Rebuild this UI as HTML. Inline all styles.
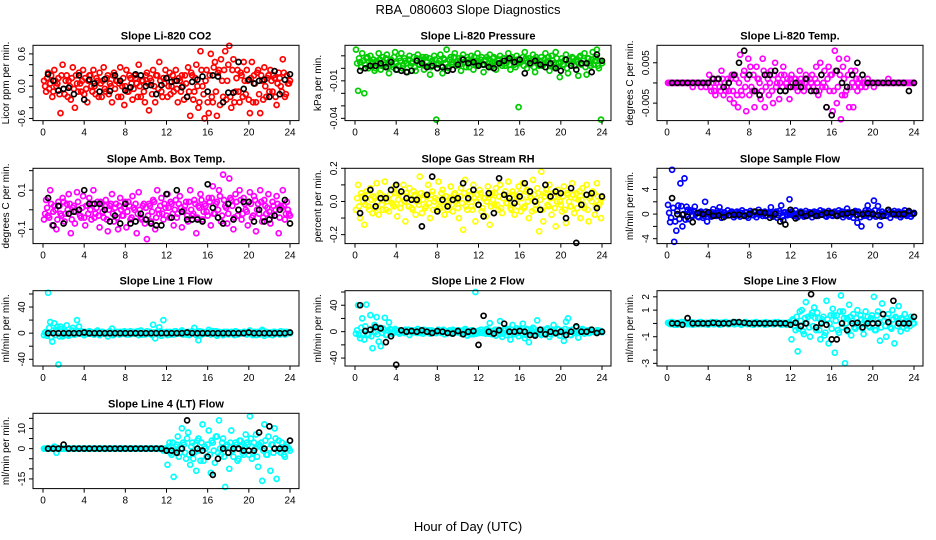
<!DOCTYPE html>
<html><head><meta charset="utf-8">
<style>
html,body{margin:0;padding:0;background:#fff;}
svg{display:block;font-family:"Liberation Sans",Arial,sans-serif;}
</style></head>
<body>
<svg id="c" width="936" height="540" viewBox="0 0 936 540" xmlns="http://www.w3.org/2000/svg">
<text x="468" y="14" text-anchor="middle" font-size="13">RBA_080603  Slope Diagnostics</text>
<text x="468" y="531" text-anchor="middle" font-size="13">Hour of Day (UTC)</text>
</svg>
<script>
const titles=["Slope Li-820 CO2","Slope Li-820 Pressure","Slope Li-820 Temp.","Slope Amb. Box Temp.","Slope Gas Stream RH","Slope Sample Flow","Slope Line 1 Flow","Slope Line 2 Flow","Slope Line 3 Flow","Slope Line 4 (LT) Flow"];
const yTitles=["Licor ppm per min.","kPa per min.","degrees C per min.","degrees C per min.","percent per min.","ml/min per min.","ml/min per min.","ml/min per min.","ml/min per min.","ml/min per min."];
const colors=["#ff0000","#00cd00","#ff00ff","#ff00ff","#ffff00","#0000ff","#00ffff","#00ffff","#00ffff","#00ffff"];
const xTicks=[0,4,8,12,16,20,24];
const yDomains=[[-0.64,0.76],[-0.0418,0.0184],[-0.00933,0.00933],[-0.173,0.212],[-0.254,0.2],[-4.8,7.45],[-50.3,65],[-52,62],[-3.2,2.46],[-19.8,17.5]];
const yTickVals=[[0.6,0.4,0.2,0,-0.2,-0.4,-0.6],[0.01,0,-0.01,-0.02,-0.03,-0.04],[0.005,0,-0.005],[0.2,0.1,0,-0.1],[0.2,0.1,0,-0.1,-0.2],[6,4,2,0,-2,-4],[60,40,20,0,-20,-40],[60,40,20,0,-20,-40],[2,1,0,-1,-2,-3],[15,10,5,0,-5,-10,-15]];
const yTickLabels=[["0.6","","","0.0","","","-0.6"],["","","-0.01","","","-0.04"],["0.005","","-0.005"],["","0.1","","-0.1"],["0.2","","0.0","","-0.2"],["","4","","0","","-4"],["","40","","0","","-40"],["","40","","0","","-40"],["2","1","","-1","","-3"],["","10","","0","","","-15"]];

const co2=[0.1,-0.1,0.25,0.05,-0.2,0.3,0.0,0.15,-0.5,0.4,-0.15,0.2,0.1,-0.25,0.35,-0.4,0.05,0.25,-0.1,0.3,0.15,-0.3,0.2,0.0,0.3,-0.15,0.1,0.25,-0.2,0.35,-0.1,0.2,0.05,-0.3,0.25,0.1,-0.2,0.35,0.0,-0.35,0.3,-0.1,0.15,-0.25,0.2,0.05,0.4,-0.2,0.1,-0.3,0.25,-0.45,0.1,0.3,-0.3,0.2,0.45,-0.1,0.15,0.3,-0.2,0.25,0.0,-0.1,0.3,-0.3,0.1,0.2,-0.25,0.05,0.35,-0.55,0.2,-0.1,0.4,-0.4,0.65,0.0,-0.6,0.3,-0.5,0.6,-0.3,0.45,-0.55,0.3,0.5,-0.2,0.65,0.1,0.75,-0.4,0.5,-0.1,0.3,-0.3,0.2,0.45,-0.15,0.1,-0.5,0.45,0.2,-0.3,0.3,-0.5,0.1,0.35,-0.2,0.2,0.3,-0.1,0.15,-0.35,0.25,0.0,0.5,-0.2,0.2,0.05];
const co2B=[0.0,0.15,-0.05,0.2,-0.1,0.1,0.05,-0.15,0.2,-0.05,0.1,-0.2,0.0,0.15,-0.05,0.2,-0.1,0.05,0.1,-0.15,-0.05,0.1,0.2,-0.1,0.0,0.15,-0.2,0.05,0.1,-0.05,0.15,-0.15,0.0,0.2,-0.05,0.1,0.05,-0.2,0.15,0.0,-0.1,0.2,0.05,-0.05,0.15,-0.2,0.0,0.1,-0.1,0.2,0.05,0.15,-0.15,0.0,0.2,-0.05,0.1,-0.2,0.05,0.15,0.0,-0.15,0.2,0.1,-0.05,0.15,-0.1,0.0,0.2,-0.2,-0.1,0.25,-0.25,0.15,0.0,-0.3,0.3,-0.15,0.1,-0.3,0.2,-0.2,0.35,-0.1,0.25,-0.35,0.1,0.3,-0.25,0.4,-0.2,0.3,-0.3,0.15,-0.1,0.25,-0.2,0.1,0.3,-0.25,0.15,-0.3,0.05,0.25,-0.15,0.2,-0.25,0.0,0.15,-0.1,0.1,0.2,-0.2,0.05,0.15,-0.1,0.25,-0.15,0.05,0.1];
const co2Ref=[0.22,0.1,-0.08,-0.05,-0.03,-0.15,0.2,-0.25,0.12,0.05,-0.1,0.13,-0.09,0.2,0.1,-0.08,-0.02,0.22,0.2,0.0,0.02,-0.15,0.02,0.15,0.08,0.1,-0.02,-0.2,0.08,0.12,0.18,-0.1,0.2,0.18,-0.3,-0.12,-0.12,0.45,-0.05,0.12,0.05,0.1,0.12,-0.2,0.28,-0.15,0.12,0.22];
const pres=[0.015,-0.018,0.005,0.012,-0.02,0.008,0.0,0.01,0.004,-0.002,0.006,0.012,-0.001,0.009,0.003,0.011,-0.004,0.007,0.001,0.013,-0.001,0.008,0.012,0.002,0.006,-0.003,0.01,0.004,0.009,-0.002,0.011,0.003,0.007,-0.001,0.009,0.002,-0.005,0.006,0.01,-0.041,0.004,0.011,-0.004,0.007,0.015,0.0,0.009,0.003,0.012,0.005,0.008,-0.002,0.011,0.005,0.009,0.001,0.01,-0.001,0.006,0.012,0.003,0.009,-0.003,0.007,0.002,0.011,0.005,0.009,-0.001,0.006,0.01,0.002,0.008,0.004,0.012,-0.001,0.007,0.003,0.01,-0.031,0.005,0.009,0.013,0.0,0.008,0.004,0.011,-0.003,0.007,0.002,0.009,0.003,0.012,0.006,-0.002,0.01,0.004,0.013,0.001,-0.007,0.008,0.003,0.011,-0.004,0.006,0.009,0.002,0.007,-0.006,0.01,0.004,0.012,-0.005,0.008,0.002,0.013,0.006,0.015,0.0,-0.041];
const presB=[0.004,0.008,0.001,0.006,0.003,0.009,0.002,0.005,0.007,0.0,0.004,0.007,0.002,0.005,0.008,0.001,0.006,0.003,0.009,0.004,0.002,0.006,0.0,0.008,0.004,0.007,0.002,0.005,0.001,0.008,0.003,0.006,0.009,0.002,0.005,0.008,0.001,0.004,0.007,0.003,0.006,0.002,0.008,0.004,0.001,0.007,0.005,0.009,0.002,0.006,0.003,0.008,0.005,0.001,0.007,0.004,0.006,0.009,0.002,0.005,0.007,0.003,0.006,0.009,0.004,0.001,0.008,0.005,0.003,0.007,0.004,0.008,0.002,0.006,0.003,0.009,0.005,0.001,0.007,0.004,0.006,0.002,0.008,0.005,0.003,0.007,0.001,0.009,0.004,0.006,0.002,0.007,0.005,0.009,0.003,0.006,0.001,0.008,0.004,0.005,0.003,0.007,0.0,0.006,0.004,0.008,0.002,0.005,0.009,0.003,0.006,0.001,0.008,0.004,0.007,0.003,0.009,0.002,0.006,0.004];
const presRef=[-0.002,0.0,0.002,0.002,0.004,0.001,0.005,-0.001,-0.002,-0.003,-0.002,0.006,0.004,0.001,0.002,0.0,0.001,-0.002,-0.001,0.003,0.007,0.004,0.005,0.002,0.003,0.001,0.0,0.004,0.006,0.008,0.005,0.007,-0.004,0.004,0.006,0.003,0.001,0.004,0.0,-0.002,0.007,0.002,-0.001,0.004,0.004,-0.003,0.011,0.006];
const ltemp=[0,0,0,0,0,0,0,0,0,0,0,0,-0.001,0,0,0,-0.001,0,0,0,0.002,-0.002,0.0,-0.003,0.001,-0.001,0.003,-0.003,-0.002,0.001,-0.004,0.002,-0.005,0.001,-0.006,0.007,-0.003,0.003,-0.007,0.006,0.004,-0.002,-0.006,0.004,0.001,-0.004,0.006,-0.006,0.002,-0.003,0.003,-0.005,0.005,0.0,-0.004,0.002,0.004,-0.002,0.001,-0.004,0.002,-0.001,0.001,-0.002,0.003,0.0,-0.002,0.002,-0.001,0.001,0.002,-0.002,0.004,-0.003,0.005,-0.001,0.003,-0.006,0.004,0.002,-0.007,0.008,-0.005,0.006,-0.009,0.004,-0.003,0.006,-0.006,0.003,-0.006,0.003,-0.002,0.001,-0.001,0.0,-0.001,0.001,0,0,-0.001,0,0,0,0,0,0,0.001,0,0,0,0,0,0,0,0,0,0,0,0];
const ltempB=[0,0,0,0,0,0,0,0,0,0,0,0,0,0,0,0,0,0,-0.001,0,-0.001,0.001,-0.002,0.0,0.001,-0.002,0.001,0.0,-0.001,-0.002,0.001,-0.002,0.002,-0.003,0.0,-0.002,0.002,-0.001,0.001,-0.003,-0.001,0.002,-0.002,0.001,0.0,-0.002,0.003,-0.001,0.001,0.0,-0.002,0.002,-0.001,0.001,0.0,-0.001,0.002,0.0,-0.001,0.001,0.0,0.001,-0.001,0.0,0.001,-0.001,0.0,0.001,-0.001,0.0,-0.001,0.001,0.0,-0.002,0.002,0.0,-0.001,0.001,-0.002,0.002,-0.002,0.003,-0.001,0.002,-0.003,0.001,-0.002,0.002,-0.001,0.0,-0.001,0.001,0.0,-0.001,0,0,0,0,0,0,0,0,0,0,0,0,0,0,0,0,0,0,0,0,0,0,0,0,0,0];
const ltempRef=[0,0,0,0,0,0,0,0,0.001,0.001,-0.001,0.0,0.002,0.005,0.008,0.002,-0.002,-0.003,0.002,0.002,0.003,-0.002,-0.002,-0.001,0.0,-0.001,0.001,-0.002,-0.002,0.002,-0.006,-0.008,0.003,0.0,-0.001,0.002,0.005,0.002,0,0,0,0,0,0,0,0,-0.002,0];
const amb=[-0.05,0.05,-0.03,0.1,-0.08,0.02,-0.1,0.04,-0.02,0.06,-0.06,0.03,0.08,-0.12,0.01,-0.07,0.09,0.0,-0.04,0.07,-0.08,0.02,0.06,-0.05,0.1,-0.02,0.04,-0.09,0.03,-0.04,0.05,-0.11,0.02,0.08,-0.06,0.03,-0.1,0.06,-0.03,0.01,-0.09,0.04,-0.05,0.07,0.0,-0.12,0.09,-0.04,0.02,-0.07,-0.15,0.03,-0.06,0.05,-0.1,0.1,-0.02,0.06,-0.05,0.01,0.08,-0.04,0.03,-0.08,0.05,-0.02,0.07,-0.09,0.0,0.04,-0.06,0.1,-0.03,0.05,-0.12,0.02,0.08,-0.05,0.03,-0.01,0.06,-0.08,0.12,-0.02,0.04,0.1,-0.06,0.18,0.02,-0.07,0.16,0.05,-0.1,0.08,-0.03,0.1,-0.05,0.06,0.0,-0.08,0.09,-0.04,0.07,-0.11,0.03,0.1,-0.06,0.05,-0.02,0.08,-0.07,0.04,-0.03,0.07,-0.12,0.02,0.1,-0.05,0.04,-0.02];
const ambB=[-0.02,0.01,-0.04,0.03,-0.01,0.0,-0.05,0.02,-0.03,0.04,-0.02,0.0,0.03,-0.05,0.02,-0.01,0.04,-0.03,0.01,-0.04,0.02,-0.02,0.0,0.03,-0.04,0.01,-0.03,0.04,-0.01,0.02,-0.05,0.0,0.03,-0.02,0.01,-0.04,0.02,0.0,-0.03,0.04,-0.01,0.02,-0.04,0.01,0.03,-0.02,0.0,-0.05,0.03,0.01,-0.03,0.02,-0.01,0.04,-0.04,0.0,0.02,-0.02,0.03,-0.03,0.01,0.04,-0.02,0.0,-0.04,0.03,0.01,-0.01,0.02,-0.03,0.04,0.0,-0.02,0.03,-0.04,0.01,0.05,-0.01,0.02,-0.03,0.04,0.06,-0.02,0.03,0.0,0.07,-0.03,0.05,0.01,-0.02,0.06,0.02,-0.04,0.04,0.0,0.05,-0.02,0.03,-0.01,0.04,0.03,-0.03,0.05,0.0,-0.02,0.04,-0.04,0.02,0.01,-0.01,-0.03,0.02,0.0,0.03,-0.04,0.01,0.02,-0.02,0.0,-0.03];
const ambRef=[0.06,-0.08,0.02,-0.07,-0.02,-0.01,0.0,0.1,0.03,0.03,0.03,0.0,-0.06,-0.03,-0.07,0.03,-0.07,-0.06,-0.02,-0.05,-0.07,-0.08,-0.08,0.08,-0.04,0.1,-0.01,-0.05,-0.05,-0.05,-0.06,0.13,0.01,-0.04,-0.07,0.03,-0.05,0.0,0.04,0.04,-0.06,0.0,-0.06,-0.05,-0.03,0.0,0.05,-0.07];
const rh=[-0.05,0.1,-0.1,0.03,-0.14,0.06,-0.03,0.08,-0.07,0.02,0.11,-0.08,0.04,-0.05,0.12,0.0,-0.06,0.07,-0.02,0.09,-0.09,0.05,-0.01,0.1,-0.12,0.03,0.08,-0.04,0.06,-0.08,0.02,0.15,-0.07,0.04,-0.03,0.1,-0.1,0.06,0.0,-0.05,0.12,-0.04,0.07,-0.08,0.03,-0.02,0.09,-0.06,0.05,0.01,-0.1,0.08,-0.17,0.13,-0.05,0.06,-0.03,0.1,-0.12,0.04,0.07,-0.06,0.02,-0.09,0.09,-0.14,0.05,-0.02,0.08,-0.05,0.1,-0.07,0.04,-0.01,0.12,-0.04,0.06,-0.08,0.03,0.09,-0.06,0.11,-0.03,0.07,-0.1,0.02,0.13,-0.05,0.08,-0.18,0.18,-0.12,0.05,-0.02,0.1,-0.08,0.03,-0.15,0.07,0.0,-0.06,0.09,-0.13,0.04,-0.03,0.11,-0.07,0.05,0.01,-0.1,0.08,-0.04,0.1,-0.12,0.03,0.06,-0.08,0.11,-0.02,-0.1];
const rhB=[0.02,-0.03,0.05,0.0,-0.02,0.04,-0.05,0.01,0.03,-0.04,0.0,0.05,-0.02,0.03,-0.05,0.02,0.04,-0.01,-0.03,0.05,0.01,-0.04,0.03,0.0,0.05,-0.03,0.02,-0.05,0.04,0.0,-0.02,0.05,0.01,-0.04,0.03,-0.01,0.04,-0.05,0.02,0.01,-0.03,0.05,0.0,0.03,-0.05,0.02,-0.02,0.04,0.0,-0.04,0.03,-0.01,0.05,-0.03,0.01,0.04,-0.05,0.02,0.0,-0.02,0.05,-0.04,0.02,0.0,0.04,-0.03,0.01,0.05,-0.02,0.03,-0.04,0.02,0.06,-0.01,0.03,-0.05,0.04,0.0,-0.03,0.05,0.02,-0.04,0.06,0.0,0.03,-0.06,0.04,-0.02,0.05,0.01,-0.05,0.03,0.07,-0.03,0.02,0.05,-0.04,0.0,0.04,-0.02,0.03,-0.05,0.05,0.0,-0.03,0.04,0.02,-0.04,0.06,0.01,-0.02,0.04,-0.05,0.02,0.0,0.05,-0.03,0.03,-0.01,0.02];
const rhRef=[-0.07,0.02,0.07,-0.03,0.02,0.02,0.07,0.1,0.06,0.02,0.01,0.01,-0.15,0.04,0.15,-0.06,0.01,-0.03,0.01,0.02,0.11,0.02,0.07,-0.02,-0.09,0.05,-0.07,0.14,0.04,0.02,-0.01,0.03,0.11,0.06,0.0,-0.05,0.1,0.03,0.06,0.05,-0.1,0.08,-0.25,-0.02,0.04,0.05,-0.04,0.03];
const samp=[1.5,-1.3,7.2,-4.5,-2.7,1.4,5.0,-2.0,5.8,1.2,-0.8,0.6,-0.3,1.2,0.2,-0.5,0.4,-0.6,2.0,-1.2,0.3,-0.4,0.8,-0.2,0.5,1.1,-0.6,0.2,-0.3,0.6,-0.2,0.4,-0.5,0.3,0.1,-0.4,0.6,-0.2,0.3,-0.6,0.5,-0.1,0.3,-0.5,0.7,0.0,-0.3,0.4,-0.2,0.3,1.1,-0.4,0.2,-0.6,0.5,1.4,-1.0,0.3,-0.2,2.4,0.4,-0.3,0.6,-0.5,0.2,0.1,-0.4,0.5,-0.2,0.3,-0.5,0.4,0.0,-0.3,0.6,-0.1,0.2,-0.4,0.5,0.1,-0.3,0.4,-0.2,0.6,0.0,-0.5,0.3,0.9,-0.4,0.2,-0.6,0.5,-1.4,0.1,-2.0,-0.3,0.6,1.4,-0.5,0.3,2.2,-0.4,1.3,-1.8,0.4,0.1,-0.3,0.6,-0.6,0.2,0.5,-0.2,0.4,-0.5,0.1,0.6,-0.3,0.2,-0.4,0.0];
const sampB=[0.2,-0.6,1.0,-1.2,0.5,-0.8,1.3,0.0,-0.9,0.7,0.3,-0.2,0.5,0.0,-0.4,0.3,0.1,-0.3,0.4,0.0,-0.2,0.3,0.0,-0.3,0.2,0.4,-0.1,0.3,0.0,-0.2,0.3,0.1,-0.2,0.4,-0.1,0.2,0.0,0.3,-0.3,0.1,0.2,-0.2,0.4,0.0,-0.1,0.3,0.1,-0.3,0.2,0.0,-0.3,0.2,0.4,-0.2,0.1,-0.4,0.3,0.0,0.2,-0.1,0.3,0.0,-0.2,0.2,0.4,-0.1,0.1,-0.3,0.3,0.0,0.2,-0.2,0.3,0.1,-0.1,0.4,-0.3,0.0,0.2,-0.2,0.3,0.0,-0.3,0.2,0.4,-0.1,0.0,0.3,-0.2,0.1,0.3,-0.2,0.4,-0.5,0.0,0.2,-0.3,0.5,0.1,-0.2,0.6,-0.1,0.3,-0.4,0.0,0.2,-0.2,0.3,0.0,0.1,-0.1,0.3,0.0,-0.2,0.2,0.1,-0.1,0.3,0.0,0.2];
const sampRef=[2.6,0.0,-0.1,-0.4,-1.3,0.2,0.0,0.3,-0.3,-0.2,-0.5,-0.2,-0.1,-0.1,-0.3,0.0,0.4,0.3,0.2,-0.6,0.0,-1.2,-1.7,0.7,-0.7,0.2,-0.3,0.1,-0.3,-0.1,0.2,0.2,-0.3,0.0,0.1,0.3,-0.1,0.0,0.1,0.0,-0.2,-0.3,0.7,0.0,0.0,0.0,0.5,0.1];
const l1=[-3,2,62,17,-13,15,5,-48,10,-5,3,12,-4,0,8,-2,20,10,3,-1,2,-1,3,0,-2,1,4,-3,2,-1,0,-5,3,7,-2,1,0,2,-1,3,-2,1,3,-1,2,0,-3,4,1,-2,3,-1,0,13,-8,2,9,-4,20,1,-3,2,0,-2,3,1,-1,4,0,-2,2,-1,3,8,-3,-11,1,2,-1,0,5,-2,3,1,-4,2,0,-3,1,2,-1,2,0,3,-2,1,0,2,-1,0,4,-2,1,-3,2,0,5,-4,2,-1,1,-3,2,0,-1,3,1,-2,2,0];
const l1B=[1,-4,8,-6,4,-3,10,-5,6,-2,2,-3,1,4,-2,0,3,-1,2,-3,0,2,-1,1,-2,3,0,-1,2,0,-1,2,0,-3,1,2,-2,0,1,-1,2,-2,0,1,-1,3,0,-2,1,0,-1,2,-3,1,0,-2,3,1,-1,2,0,-2,1,3,-1,0,2,-2,1,0,-3,1,2,-1,0,3,-2,1,0,-1,2,-1,0,3,-2,1,-1,2,0,-2,1,0,-3,2,1,-1,0,2,-2,1,0,-3,2,1,-2,0,3,-1,1,-2,0,2,-1,1,-2,0,2,-1,1,0];
const l1Ref=[0,0,0,0,0,0,0,1,0,0,0,0,0,0,0,0,0,0,0,0,0,0,0,0,0,0,0,1,0,0,0,0,0,0,0,0,0,0,0,1,0,0,0,0,0,0,0,1];
const l2=[-3,40,-10,20,-12,41,-5,25,-25,10,22,-15,-22,5,21,-5,14,3,-2,4,2,-3,1,-1,3,0,-5,2,-1,1,4,-2,0,3,-1,2,-3,1,0,-2,3,-1,2,-4,0,1,-2,3,0,-1,2,-3,1,4,-6,0,2,-4,60,1,-2,3,0,-3,2,13,-4,1,-6,3,16,-8,2,-5,4,-12,10,-3,5,-7,2,12,-10,4,-16,3,6,-4,17,0,-5,3,-2,5,-8,1,10,-3,4,-6,2,-14,15,20,-5,3,-2,6,-9,2,4,-3,1,-2,3,0,-1,2,0,1];
const l2B=[2,-5,6,-3,8,-4,3,-7,5,0,-4,6,-2,3,-5,2,4,-3,0,2,-1,2,0,-2,1,3,-1,0,2,-2,1,0,-3,2,0,-1,2,1,-2,0,1,-2,3,0,-1,2,-3,1,0,2,-1,0,3,-2,1,-4,2,0,-3,1,3,-2,0,4,-3,1,-2,3,0,-4,2,-3,5,-1,0,3,-4,2,-2,4,-3,1,-5,3,0,-2,4,-1,2,-3,1,-2,3,0,-4,2,1,-3,3,0,-2,4,-1,2,-5,3,0,-2,1,3,-1,0,2,-2,1,0,-1,2,0,-1];
const l2Ref=[40,1,3,7,5,-16,-7,-50,2,0,1,0,2,0,-2,1,0,-2,-3,1,-4,0,1,-20,24,0,-3,2,12,0,0,1,0,-5,-6,3,-4,0,-2,0,-5,0,8,0,0,3,-2,0];
const l3=[0.05,-0.05,0.1,-0.1,0.0,0.05,-0.05,0.1,0.0,-0.05,0.05,0.0,-0.1,0.05,0.0,-0.05,0.1,0.0,-0.05,0.05,0.0,0.1,-0.05,0.05,0.0,-0.1,0.05,0.0,0.1,-0.05,0.05,0.0,-0.05,0.1,0.0,0.05,-0.05,0.0,0.1,0.0,-0.05,0.05,0.0,0.1,-0.05,0.0,0.05,-0.1,0.0,0.05,0.0,-0.05,0.1,0.0,0.05,-0.1,0.0,0.05,-0.05,0.1,-1.2,0.2,-0.5,-2.1,0.9,1.0,-0.8,1.6,0.5,-1.0,0.8,1.2,-0.5,0.4,-1.2,0.3,-0.9,1.7,-1.5,0.6,1.1,-2.2,0.6,-0.7,2.1,0.9,-3.0,0.4,1.4,-0.9,0.7,-0.4,1.0,-0.2,0.3,-0.8,0.9,0.5,-0.3,0.6,2.0,-0.5,0.9,-1.3,1.5,0.2,-1.0,0.7,-0.3,1.0,-1.5,0.4,1.3,-0.6,0.3,0.7,-0.4,0.2,0.5,0.0];
const l3B=[0.0,0.1,-0.05,0.05,-0.1,0.0,0.1,-0.05,0.05,0.0,-0.05,0.1,0.0,-0.05,0.05,0.1,-0.05,0.0,0.05,-0.1,0.05,0.0,-0.05,0.1,0.0,0.05,-0.05,0.1,0.0,-0.05,0.0,0.1,-0.05,0.05,0.0,-0.1,0.05,0.1,-0.05,0.0,0.05,-0.1,0.1,0.0,-0.05,0.05,0.0,0.1,-0.05,0.0,0.05,-0.05,0.0,0.1,-0.05,0.05,0.0,-0.1,0.05,0.0,0.3,-0.2,0.5,-0.4,0.2,-0.6,0.4,0.0,-0.3,0.6,-0.2,0.4,0.8,-0.5,0.1,0.5,-0.7,0.3,0.0,-0.4,0.6,0.2,-0.5,0.9,-0.3,0.4,0.0,-0.6,0.5,0.2,-0.3,0.4,-0.1,0.6,-0.4,0.2,0.0,-0.2,0.4,0.3,-0.5,0.6,0.1,-0.3,0.7,-0.2,0.4,0.0,-0.4,0.3,0.5,-0.2,0.0,0.4,-0.3,0.2,0.1,-0.2,0.3,0.0];
const l3Ref=[0,0,-0.1,0.4,0,0,0,0,0.05,0,0,0,0.1,0.1,0.05,0,0,0,0,0,0,0,0,-0.1,0.05,-0.2,0,2.2,-0.3,0,-0.1,-1.2,-1.2,0.0,-0.5,0,0.05,-0.3,0.0,0.0,0.0,0.7,0.1,1.7,0.0,0.0,0.0,0.5];
const l4=[0,0,0,0,0,1,-2,0,0,0,0,0,0,0,0,0,0,0,0,0,0,0,0,0,0,0,0,0,0,0,0,0,0,0,0,0,0,0,0,0,0,0,0,0,0,0,0,0,0,0,0,0,0,0,0,0,0,0,-1,0,-8,3,-3,-14,1,6,-2,10,2,-5,8,-8,3,-2,-11,5,-6,12,1,-4,9,-12,3,-7,6,14,-3,5,-19,2,-10,9,-4,3,-6,4,1,-3,7,2,16,-5,3,7,-9,1,-16,12,-3,6,-11,2,10,-15,4,-2,0,-4,2,0];
const l4B=[0,0,0,0,0,0,0,0,0,0,0,0,0,0,0,0,0,0,0,0,0,0,0,0,0,0,0,0,0,0,0,0,0,0,0,0,0,0,0,0,0,0,0,0,0,0,0,0,0,0,0,0,0,0,0,0,0,0,0,0,1,-2,3,-1,2,-4,0,3,-2,5,-3,1,-5,2,4,-1,3,-6,0,2,-3,4,-1,6,-2,0,3,-4,1,-2,3,-1,0,2,-5,4,-2,1,3,-3,5,-2,0,-4,2,3,-1,4,-3,0,2,-2,5,-1,0,3,-3,1,0,-1];
const l4Ref=[0,0,0,2,0,0,0,0,0,0,0,0,0,0,0,0,0,0,0,0,0,0,0,-1,-1,-2,0,14,-2,0,-1,-4,-13,-5,0,-2,0,0,-1,-1,-1,8,0,11,0,0,0,4];

const seriesList=[co2,pres,ltemp,amb,rh,samp,l1,l2,l3,l4];
const seriesListB=[co2B,presB,ltempB,ambB,rhB,sampB,l1B,l2B,l3B,l4B];
const refList=[co2Ref,presRef,ltempRef,ambRef,rhRef,sampRef,l1Ref,l2Ref,l3Ref,l4Ref];

const NS="http://www.w3.org/2000/svg";
const svg=document.getElementById('c');
const rowTops=[45.3,168.3,290.7,413.3];
const BOXW=266, BOXH=75.3;
function mk(tag,attrs,parent){const e=document.createElementNS(NS,tag);for(const k in attrs)e.setAttribute(k,attrs[k]);(parent||svg).appendChild(e);return e;}

for(let p=0;p<10;p++){
  const col=p%3,row=Math.floor(p/3);
  const L=33+col*312,T=rowTops[row],B=T+BOXH,R=L+BOXW;
  const [y0,y1]=yDomains[p];
  const sx=h=>L+10+h/24*(BOXW-19);
  const sy=v=>B-(v-y0)/(y1-y0)*BOXH;
  const g=mk('g',{});
  
  
  const t=mk('text',{x:(L+R)/2,y:T-6,'text-anchor':'middle','font-size':'11','font-weight':'bold'},g);
  t.textContent=titles[p];
  
  
  const pts=mk('g',{fill:'none','stroke-width':'1.7'},g);
  
  
  seriesList[p].forEach((v,i)=>{
    const c=mk('circle',{cx:sx(i*0.2+0.1).toFixed(1),cy:sy(v).toFixed(1),r:'2.5',stroke:colors[p]},pts);
    
    
  });
  seriesListB[p].forEach((v,i)=>{
    const c=mk('circle',{cx:sx(i*0.2+0.2).toFixed(1),cy:sy(v).toFixed(1),r:'2.5',stroke:colors[p]},pts);
    
    
  });
  const rp=mk('g',{fill:'none','stroke-width':'1.7'},g);
  
  
  refList[p].forEach((v,i)=>{
    const c=mk('circle',{cx:sx((i+1)*0.5).toFixed(1),cy:sy(v).toFixed(1),r:'2.5',stroke:'#000'},rp);
    
    
  });
  const box=mk('rect',{x:L,y:T,width:BOXW,height:BOXH,fill:'none',stroke:'#000','stroke-width':'1'},g);
  
  
  const xa=mk('g',{},g);
  
  
  xTicks.forEach(h=>{
    mk('line',{x1:sx(h),x2:sx(h),y1:B,y2:B+4,stroke:'#000'},xa);
    const tl=mk('text',{x:sx(h),y:B+15,'text-anchor':'middle','font-size':'10'},xa);
    tl.textContent=h;
    
    
  });
  const ya=mk('g',{},g);
  
  
  yTickVals[p].forEach((v,i)=>{
    const y=sy(v);
    mk('line',{x1:L-4,x2:L,y1:y,y2:y,stroke:'#000'},ya);
    const lab=yTickLabels[p][i];
    if(lab){
      const tl=mk('text',{x:L-8,y:y,'text-anchor':'middle','font-size':'10',transform:`rotate(-90 ${L-8} ${y})`},ya);
      tl.textContent=lab;
      
      
    }
  });
  const yt=mk('text',{x:L-24,y:(T+B)/2,'text-anchor':'middle','font-size':'10',transform:`rotate(-90 ${L-24} ${(T+B)/2})`},g);
  yt.textContent=yTitles[p];
  
  
}
</script>
</body></html>
